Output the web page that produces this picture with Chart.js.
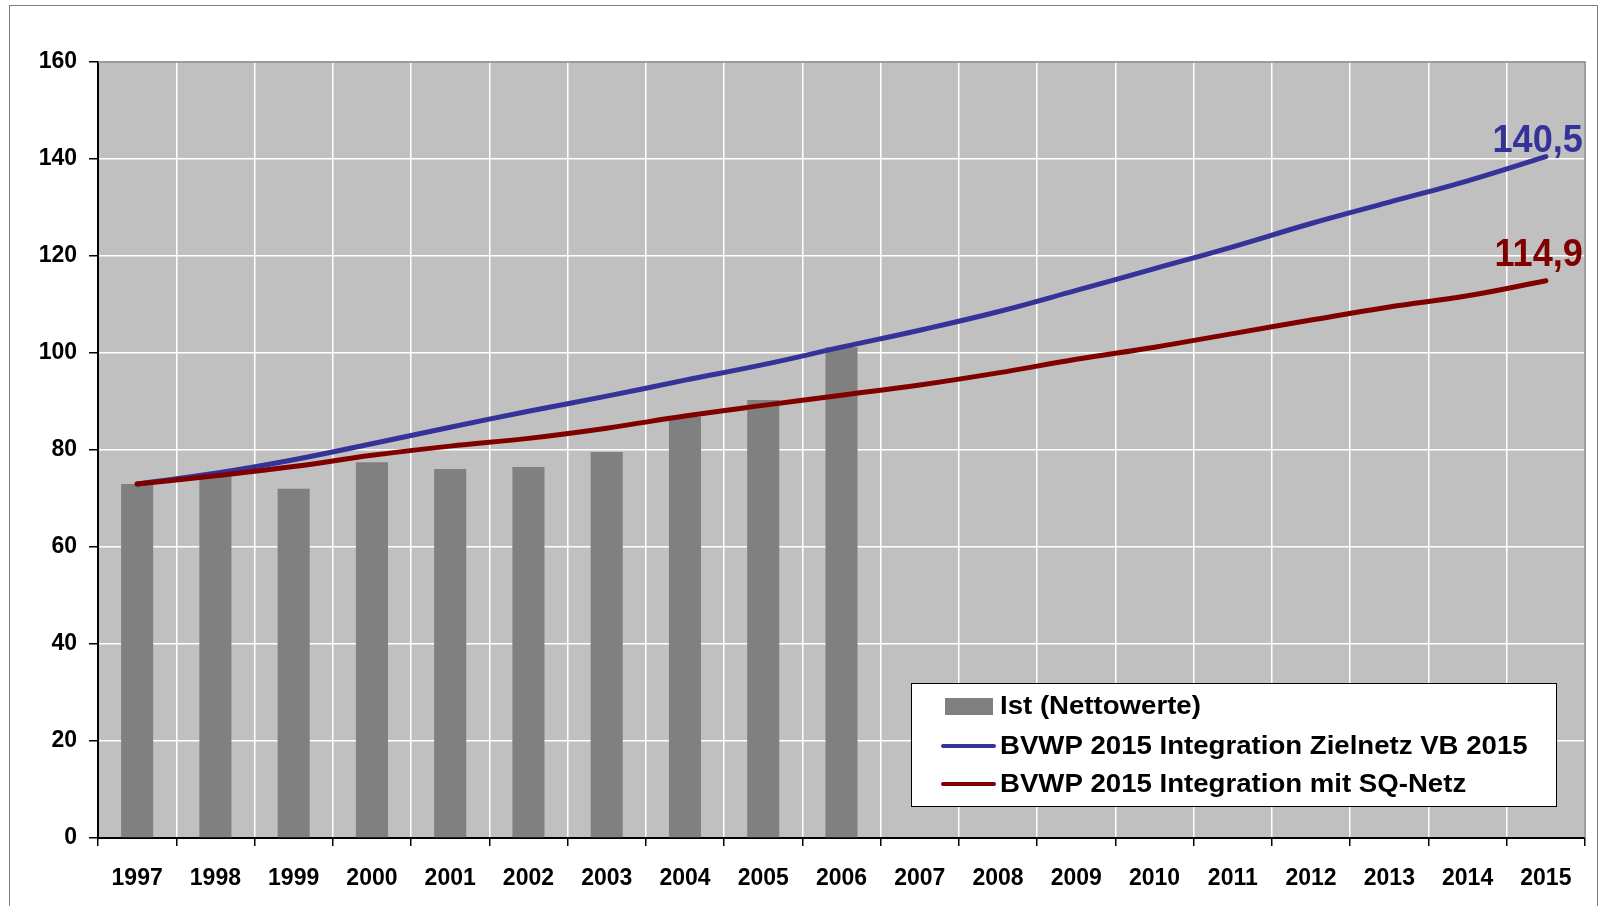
<!DOCTYPE html>
<html>
<head>
<meta charset="utf-8">
<script src="https://cdn.jsdelivr.net/npm/chart.js@4/dist/chart.umd.min.js"></script>
<style>
  html, body { margin: 0; padding: 0; background: #fff; overflow: hidden; }
  #wrap { position: relative; width: 1599px; height: 906px; }
</style>
</head>
<body>
<div id="wrap"><canvas id="chart" width="1599" height="906"></canvas></div>
<script>
const years = ["1997", "1998", "1999", "2000", "2001", "2002", "2003", "2004", "2005", "2006",
  "2007", "2008", "2009", "2010", "2011", "2012", "2013", "2014", "2015"];
const istValues = [73.0, 74.9, 72.0, 77.5, 76.1, 76.5, 79.6, 86.8, 90.3, 101.2,
  null, null, null, null, null, null, null, null, null];
const zielnetzValues = [73.0, 75.2, 78.0, 81.3, 84.7, 88.0, 91.1, 94.4, 97.6, 101.2,
  104.7, 108.5, 112.9, 117.4, 121.9, 126.7, 131.1, 135.5, 140.5];
const sqNetzValues = [73.0, 74.7, 76.6, 78.9, 80.8, 82.4, 84.5, 87.0, 89.2, 91.3,
  93.4, 95.9, 98.7, 101.2, 104.0, 106.8, 109.5, 111.8, 114.9];
const seriesNames = ["Ist (Nettowerte)", "BVWP 2015 Integration Zielnetz VB 2015", "BVWP 2015 Integration mit SQ-Netz"];
const yMin = 0, yMax = 160, yStep = 20;

const FONT = "'Liberation Sans', Arial, sans-serif";

// page frame + grey plot area
const backgroundPlugin = {
  id: "background",
  beforeDraw(chart) {
    const { ctx, chartArea: a } = chart;
    ctx.save();
    ctx.fillStyle = "#fff";
    ctx.fillRect(0, 0, chart.width, chart.height);
    ctx.strokeStyle = "#808080";
    ctx.lineWidth = 1;
    ctx.strokeRect(9.5, 5.5, 1588, 1000);
    ctx.fillStyle = "#C0C0C0";
    ctx.fillRect(a.left, a.top, a.right - a.left, a.bottom - a.top);
    ctx.restore();
  },
  afterDraw(chart) {
    const { ctx, chartArea: a } = chart;
    ctx.save();
    ctx.strokeStyle = "#808080";
    ctx.lineWidth = 1.5;
    ctx.beginPath();
    ctx.moveTo(a.left, a.top);
    ctx.lineTo(a.right, a.top);
    ctx.lineTo(a.right, a.bottom);
    ctx.stroke();
    ctx.restore();
  }
};

// value label at the end of each line
const endLabelPlugin = {
  id: "endLabel",
  afterDatasetsDraw(chart) {
    const ctx = chart.ctx;
    chart.data.datasets.forEach((ds, i) => {
      if (!ds.endLabel) return;
      const meta = chart.getDatasetMeta(i);
      const pt = meta.data[meta.data.length - 1];
      const v = ds.data[ds.data.length - 1];
      ctx.save();
      ctx.translate(pt.x + ds.endLabel.dx, pt.y - ds.endLabel.dy);
      ctx.scale(0.95, 1);
      ctx.font = "bold 38px " + FONT;
      ctx.fillStyle = ds.borderColor;
      ctx.textAlign = "right";
      ctx.textBaseline = "alphabetic";
      ctx.fillText(v.toFixed(1).replace(".", ","), 0, 0);
      ctx.restore();
    });
  }
};

// boxed legend inside the plot
const boxLegendPlugin = {
  id: "boxLegend",
  afterDraw(chart, args, opts) {
    const ctx = chart.ctx;
    const { x, y, w, h, rowY } = opts;
    ctx.save();
    ctx.fillStyle = "#fff";
    ctx.fillRect(x, y, w, h);
    ctx.strokeStyle = "#000";
    ctx.lineWidth = 1;
    ctx.strokeRect(x + 0.5, y + 0.5, w, h);
    chart.data.datasets.forEach((ds, i) => {
      const cy = y + rowY[i];
      if (ds.type === "bar") {
        ctx.fillStyle = ds.backgroundColor;
        ctx.fillRect(x + 34, cy - 8, 48, 17);
      } else {
        ctx.strokeStyle = ds.borderColor;
        ctx.lineWidth = 4;
        ctx.lineCap = "round";
        ctx.beginPath();
        ctx.moveTo(x + 32, cy);
        ctx.lineTo(x + 83, cy);
        ctx.stroke();
      }
      ctx.save();
      ctx.translate(x + 89, cy + 1);
      ctx.scale(1.15, 1.04);
      ctx.font = "bold 24px " + FONT;
      ctx.textBaseline = "middle";
      ctx.textAlign = "left";
      ctx.fillStyle = "#000";
      ctx.fillText(ds.label, 0, 0);
      ctx.restore();
    });
    ctx.restore();
  }
};

new Chart(document.getElementById("chart"), {
  type: "bar",
  data: {
    labels: years,
    datasets: [
      {
        type: "bar",
        label: seriesNames[0],
        data: istValues,
        backgroundColor: "#808080",
        categoryPercentage: 1,
        barPercentage: 0.41,
        order: 3
      },
      {
        type: "line",
        label: seriesNames[1],
        data: zielnetzValues,
        borderColor: "#333399",
        borderWidth: 5,
        borderCapStyle: "round",
        pointRadius: 0,
        tension: 0.4,
        fill: false,
        order: 2,
        endLabel: { dx: 37, dy: 5 }
      },
      {
        type: "line",
        label: seriesNames[2],
        data: sqNetzValues,
        borderColor: "#800000",
        borderWidth: 5,
        borderCapStyle: "round",
        pointRadius: 0,
        tension: 0.4,
        fill: false,
        order: 1,
        endLabel: { dx: 37, dy: 15 }
      }
    ]
  },
  options: {
    responsive: false,
    animation: false,
    layout: { padding: { top: 62, right: 14, bottom: 0, left: 0 } },
    plugins: {
      legend: { display: false },
      tooltip: { enabled: false },
      boxLegend: { x: 911, y: 683, w: 645, h: 123, rowY: [23, 63, 101] }
    },
    scales: {
      x: {
        offset: true,
        grid: { offset: true, color: "#FFFFFF", lineWidth: 1.5, tickColor: "#000", tickLength: 8 },
        border: { color: "#000", width: 2 },
        ticks: { color: "#000", font: { family: FONT, size: 23, weight: "bold" }, padding: 19, maxRotation: 0, autoSkip: false },
        afterFit: (s) => { s.height = 68; }
      },
      y: {
        min: yMin,
        max: yMax,
        grid: { color: "#FFFFFF", lineWidth: 1.5, tickColor: "#000", tickLength: 9 },
        border: { color: "#000", width: 2 },
        ticks: { stepSize: yStep, color: "#000", font: { family: FONT, size: 23, weight: "bold" }, padding: 12 },
        afterFit: (s) => { s.width = 98; }
      }
    }
  },
  plugins: [backgroundPlugin, endLabelPlugin, boxLegendPlugin]
});
</script>
</body>
</html>
